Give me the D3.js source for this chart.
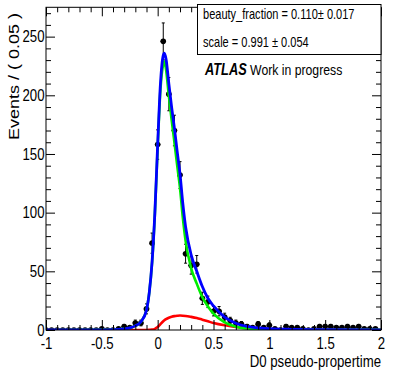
<!DOCTYPE html>
<html><head><meta charset="utf-8">
<script src="https://cdn.jsdelivr.net/npm/d3@7"></script>
<style>
body{margin:0;background:#fff}
svg{display:block}
text{font-family:"Liberation Sans",Arial,Helvetica,sans-serif;fill:#000}
</style>
</head><body><svg id="c" width="396" height="371"></svg>
<script>
// ---------------- data ----------------
const binCenters = [-1.00,-0.95,-0.90,-0.85,-0.80,-0.75,-0.70,-0.65,-0.60,-0.55,
  -0.50,-0.45,-0.40,-0.35,-0.30,-0.25,-0.20,-0.15,-0.10,-0.05,
  0.00,0.05,0.10,0.15,0.20,0.25,0.30,0.35,0.40,0.45,
  0.50,0.55,0.60,0.65,0.70,0.75,0.80,0.85,0.90,0.95,
  1.00,1.05,1.10,1.15,1.20,1.25,1.30,1.35,1.40,1.45,
  1.50,1.55,1.60,1.65,1.70,1.75,1.80,1.85,1.90,1.95];
const counts = [0,0,0,0,0,0,0,0,0,0,
  1,0,0,1,3,2,6,6,18,74,
  158,246,201,170,132,65,55,56,27,24,
  16,16,11,8,6,5,3,2,5,2,
  4,1,0,3,2,2,1,0,1,3,
  3,3,2,2,3,2,3,1,1,1];

const curveX =    [-1,-0.5,-0.4,-0.35,-0.3,-0.25,-0.2,-0.15,-0.1,-0.075,-0.05,-0.025,0,0.025,0.05,0.06,0.075,0.1,0.125,0.15,0.175,0.2,0.225,0.25,0.3,0.35,0.4,0.45,0.5,0.6,0.7,0.8,0.9,1.0,1.2,1.5,2.0];
const totalPdf =  [0.05,0.1,0.25,0.5,1.0,1.8,3.5,7,17,32,58,100,158,210,234,236,231,210,190,172,152,133,108,88,64,50,37,27,20.5,11,5.8,3,1.7,1.1,0.6,0.3,0.15];
const charmPdf =  [0.05,0.1,0.25,0.5,1.0,1.8,3.5,7,17,32,57.7,99,155.5,205,226.5,229,222,199.5,179,160,140,121,96,76,52.5,39.5,28,20,14,6.5,2.8,1.3,0.7,0.45,0.3,0.15,0.1];
const beautyPdf = [0,0,0,0,0,0,0,0,0,0.1,0.3,1,2.5,5,7.5,8.3,9.3,10.5,11.3,11.8,12.1,12.3,12.2,12,11.2,10.2,8.8,7.4,6,4,2.6,1.5,0.9,0.6,0.25,0.1,0.03];

const xTickValues = [-1,-0.5,0,0.5,1,1.5,2];
const xTickLabels = ["-1","-0.5","0","0.5","1","1.5","2"];
const yTickValues = [0,50,100,150,200,250];
const yTickLabels = ["0","50","100","150","200","250"];
const xMinorTicks = [-0.9,-0.8,-0.7,-0.6,-0.4,-0.3,-0.2,-0.1,0.1,0.2,0.3,0.4,0.6,0.7,0.8,0.9,1.1,1.2,1.3,1.4,1.6,1.7,1.8,1.9];
const yMinorTicks = [10,20,30,40,60,70,80,90,110,120,130,140,160,170,180,190,210,220,230,240,260,270];
const paramLines = ["beauty_fraction = 0.110\u00B1 0.017", "scale = 0.991 \u00B1 0.054"];
const xTitle = "D0 pseudo-propertime";
const yTitle = "Events / ( 0.05 )";

// ---------------- layout ----------------
const L = 46, R = 381, T = 7.3, B = 330;
const SX = 0.8; // horizontal squeeze of ROOT text
const svg = d3.select("#c");
const x = d3.scaleLinear().domain([-1, 2]).range([L, R]);
const y = d3.scaleLinear().domain([0, 275]).range([B, T]);

svg.append("defs").append("clipPath").attr("id","fr")
  .append("rect").attr("x",L).attr("y",T).attr("width",R-L).attr("height",B-T);

// ---------------- data points ----------------
const pts = svg.append("g").attr("clip-path","url(#fr)");
const data = binCenters.map((c,i)=>({c, n:counts[i]}));
const errUp = d => d.n > 0 ? Math.sqrt(d.n) : 1.15;
const errDn = d => d.n > 0 ? Math.sqrt(d.n) : 0;
const pg = pts.selectAll("g.p").data(data).enter().append("g");
pg.append("line").attr("x1",d=>x(d.c-0.025)).attr("x2",d=>x(d.c+0.025))
  .attr("y1",d=>y(d.n)).attr("y2",d=>y(d.n)).attr("stroke","#000").attr("stroke-width",1);
pg.append("line").attr("x1",d=>x(d.c)).attr("x2",d=>x(d.c))
  .attr("y1",d=>y(d.n+errUp(d))).attr("y2",d=>y(d.n-errDn(d))).attr("stroke","#000").attr("stroke-width",1);
pg.filter(d=>d.n>=3).append("line").attr("x1",d=>x(d.c)-1.5).attr("x2",d=>x(d.c)+1.5)
  .attr("y1",d=>y(d.n+errUp(d))).attr("y2",d=>y(d.n+errUp(d))).attr("stroke","#000").attr("stroke-width",1);
pg.filter(d=>d.n>=3).append("line").attr("x1",d=>x(d.c)-1.5).attr("x2",d=>x(d.c)+1.5)
  .attr("y1",d=>y(d.n-errDn(d))).attr("y2",d=>y(d.n-errDn(d))).attr("stroke","#000").attr("stroke-width",1);

// ---------------- curves ----------------
const cg = svg.append("g").attr("clip-path","url(#fr)");
function drawCurve(vals, color, w){
  const line = d3.line().x((d,i)=>x(curveX[i])).y(d=>y(d)).curve(d3.curveMonotoneX);
  cg.append("path").attr("d", line(vals)).attr("fill","none")
    .attr("stroke", color).attr("stroke-width", w).attr("stroke-linejoin","round");
}
drawCurve(beautyPdf, "#ff0000", 2.6);
drawCurve(charmPdf, "#00ee00", 2.6);
drawCurve(totalPdf, "#0000ff", 2.8);

pg.append("circle").attr("cx",d=>x(d.c)).attr("cy",d=>y(d.n)).attr("r",2.8).attr("fill","#000");

// ---------------- axes ----------------
function strip(g){ g.select(".domain").remove(); g.selectAll("line").attr("stroke","#000"); return g; }
const fs = 16.5;
// bottom
const gB = svg.append("g").attr("transform",`translate(0,${B})`)
  .call(d3.axisBottom(x).tickValues(xTickValues).tickSize(-10).tickSizeOuter(0)
    .tickFormat((d,i)=>xTickLabels[i]));
strip(gB);
gB.selectAll("text").attr("y",null).attr("dy",null).attr("font-size",fs).attr("font-family",null)
  .attr("transform",`translate(0,18.5) scale(${SX},1)`);
svg.append("g").attr("transform",`translate(0,${B})`)
  .call(d3.axisBottom(x).tickValues(xMinorTicks).tickSize(-5).tickSizeOuter(0).tickFormat(""))
  .call(strip);
// top
svg.append("g").attr("transform",`translate(0,${T})`)
  .call(d3.axisTop(x).tickValues(xTickValues).tickSize(-9).tickSizeOuter(0).tickFormat("")).call(strip);
svg.append("g").attr("transform",`translate(0,${T})`)
  .call(d3.axisTop(x).tickValues(xMinorTicks).tickSize(-5).tickSizeOuter(0).tickFormat("")).call(strip);
// left
const gL = svg.append("g").attr("transform",`translate(${L},0)`)
  .call(d3.axisLeft(y).tickValues(yTickValues).tickSize(-9).tickSizeOuter(0)
    .tickFormat((d,i)=>yTickLabels[i]));
strip(gL);
gL.selectAll("text").attr("x",null).attr("dy",null).attr("font-size",fs).attr("font-family",null)
  .attr("dominant-baseline","central").attr("text-anchor","end")
  .attr("transform",`translate(-1.5,-1) scale(${SX},1)`);
svg.append("g").attr("transform",`translate(${L},0)`)
  .call(d3.axisLeft(y).tickValues(yMinorTicks).tickSize(-5).tickSizeOuter(0).tickFormat("")).call(strip);
// right
svg.append("g").attr("transform",`translate(${R},0)`)
  .call(d3.axisRight(y).tickValues(yTickValues).tickSize(-9).tickSizeOuter(0).tickFormat("")).call(strip);
svg.append("g").attr("transform",`translate(${R},0)`)
  .call(d3.axisRight(y).tickValues(yMinorTicks).tickSize(-5).tickSizeOuter(0).tickFormat("")).call(strip);

// frame
svg.append("rect").attr("x",L).attr("y",T).attr("width",R-L).attr("height",B-T)
  .attr("fill","none").attr("stroke","#000").attr("stroke-width",1);

// titles
svg.append("text").attr("transform",`translate(${R},367) scale(${SX},1)`)
  .attr("text-anchor","end").attr("font-size",fs).text(xTitle);
svg.append("text").attr("transform",`translate(18.5,13) scale(${SX},1) rotate(-90)`)
  .attr("text-anchor","end").attr("font-size",18).text(yTitle);

// parameter box
svg.append("rect").attr("x",197.5).attr("y",4.5).attr("width",R-197.5).attr("height",50)
  .attr("fill","#fff").attr("stroke","#000").attr("stroke-width",1);
svg.append("text").attr("transform",`translate(203,18.5) scale(${SX},1)`).attr("font-size",13.8).text(paramLines[0]);
svg.append("text").attr("transform",`translate(203,47) scale(${SX},1)`).attr("font-size",13.8).text(paramLines[1]);

// ATLAS label
const at = svg.append("text").attr("transform",`translate(205,74.5) scale(${SX},1)`).attr("font-size",15.3);
at.append("tspan").attr("font-weight","bold").attr("font-style","italic").attr("font-size",16).text("ATLAS");
at.append("tspan").text(" Work in progress");
</script>
</body></html>
